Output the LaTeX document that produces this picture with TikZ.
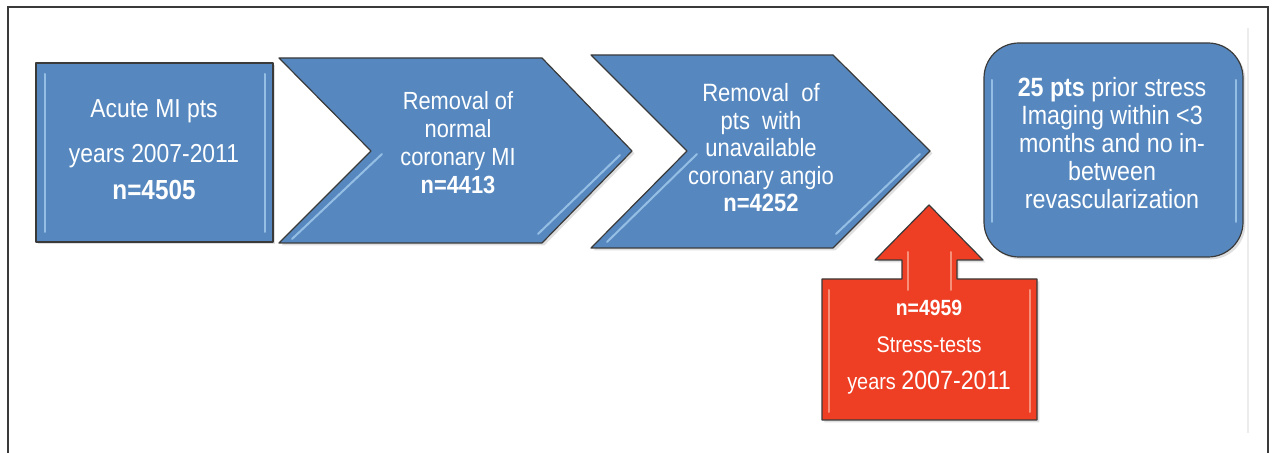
\documentclass[tikz,border=0pt]{standalone}
\usepackage{fontspec}
\setmainfont{Liberation Sans}[FakeStretch=0.88]
\usetikzlibrary{positioning,shadows}
\definecolor{flowblue}{RGB}{86,136,191}
\definecolor{flowred}{RGB}{238,62,36}
\definecolor{edgegray}{RGB}{58,58,58}
\definecolor{shineblue}{RGB}{165,204,238}
\definecolor{shinered}{RGB}{250,165,145}
\newcommand{\shine}[3]{\draw[shine, #1] (#2) -- (#3);}
\tikzstyle{every node}=[text=white, align=center, inner sep=0, outer sep=0]
\tikzstyle{blueshape}=[fill=flowblue, draw=edgegray, line width=.6pt, line join=round,
  drop shadow={shadow xshift=1.2pt, shadow yshift=-1.2pt, opacity=.25}]
\tikzstyle{redshape}=[blueshape, fill=flowred]
\tikzstyle{shine}=[line width=1pt, line cap=round, opacity=.8]

\begin{document}
\begin{tikzpicture}[x=.5pt, y=-.5pt]
\useasboundingbox (0,0) rectangle (1272,453);
% frame
\draw[gray!15, line width=.6pt] (1248,28) -- (1248,433);
\draw[edgegray, line width=.75pt] (8,453) -- (8,7) -- (1268,7) -- (1268,453);

% blue steps
\draw[blueshape] (36,63) rectangle (273,242);
\draw[blueshape] (279,58) -- (542,58) -- (632,151) -- (542,243) -- (279,243) -- (371,151) -- cycle;
\draw[blueshape] (591,55) -- (833,55) -- (930,151) -- (833,248) -- (591,248) -- (687,151) -- cycle;
\draw[blueshape, rounded corners=17.5pt] (984,43) rectangle (1243,257);

\coordinate (s1a) at (45,74);   \coordinate (s1b) at (45,232);
\coordinate (s2a) at (265,74);  \coordinate (s2b) at (265,232);
\coordinate (s3a) at (382,154); \coordinate (s3b) at (292,239);
\coordinate (s4a) at (620,155); \coordinate (s4b) at (538,234);
\coordinate (s5a) at (697,154); \coordinate (s5b) at (607,242);
\coordinate (s6a) at (920,154); \coordinate (s6b) at (836,234);
\coordinate (s7a) at (992,80);  \coordinate (s7b) at (992,222);
\coordinate (s8a) at (1236,80); \coordinate (s8b) at (1236,222);
\foreach \i in {1,...,8}
{
\shine{shineblue}{s\i a}{s\i b}
}

% stress-test arrow
\draw[redshape] (822,279) -- (902,279) -- (902,260) -- (875,260) -- (929,205) -- (983,260)
  -- (957,260) -- (957,279) -- (1037,279) -- (1037,420) -- (822,420) -- cycle;
\coordinate (r1a) at (908,252);  \coordinate (r1b) at (908,290);
\coordinate (r2a) at (951,252);  \coordinate (r2b) at (951,290);
\coordinate (r3a) at (829,290);  \coordinate (r3b) at (829,412);
\coordinate (r4a) at (1030,290); \coordinate (r4b) at (1030,412);
\foreach \i in {1,...,4}
{
\shine{shinered}{r\i a}{r\i b}
}

% texts
\node[font=\fontsize{13}{22.5}\selectfont] (acute) at (154,150)
  {Acute MI pts\\years 2007-2011\\[-4pt]{\fontsize{13.8}{22.5}\selectfont\bfseries n=4505}};
\node[font=\fontsize{12.4}{14}\selectfont] (normal) at (458,143)
  {Removal of\\normal\\coronary MI\\\textbf{n=4413}};
\node[font=\fontsize{12.5}{13.75}\selectfont] (angio) at (761,148)
  {Removal\ \ of\\pts\ \ with\\unavailable\\coronary angio\\\textbf{n=4252}};
\node[font=\fontsize{13.2}{13.9}\selectfont] (prior) at (1112,143)
  {\textbf{25 pts} prior stress\\Imaging within <3\\months and no in-\\between\\revascularization};
\node[font=\fontsize{11.3}{18.5}\selectfont] (stress) at (929,347)
  {{\fontsize{11}{18.5}\selectfont\bfseries n=4959}\\Stress-tests\\years {\fontsize{13.2}{18.5}\selectfont 2007-2011}};
\end{tikzpicture}
\end{document}
